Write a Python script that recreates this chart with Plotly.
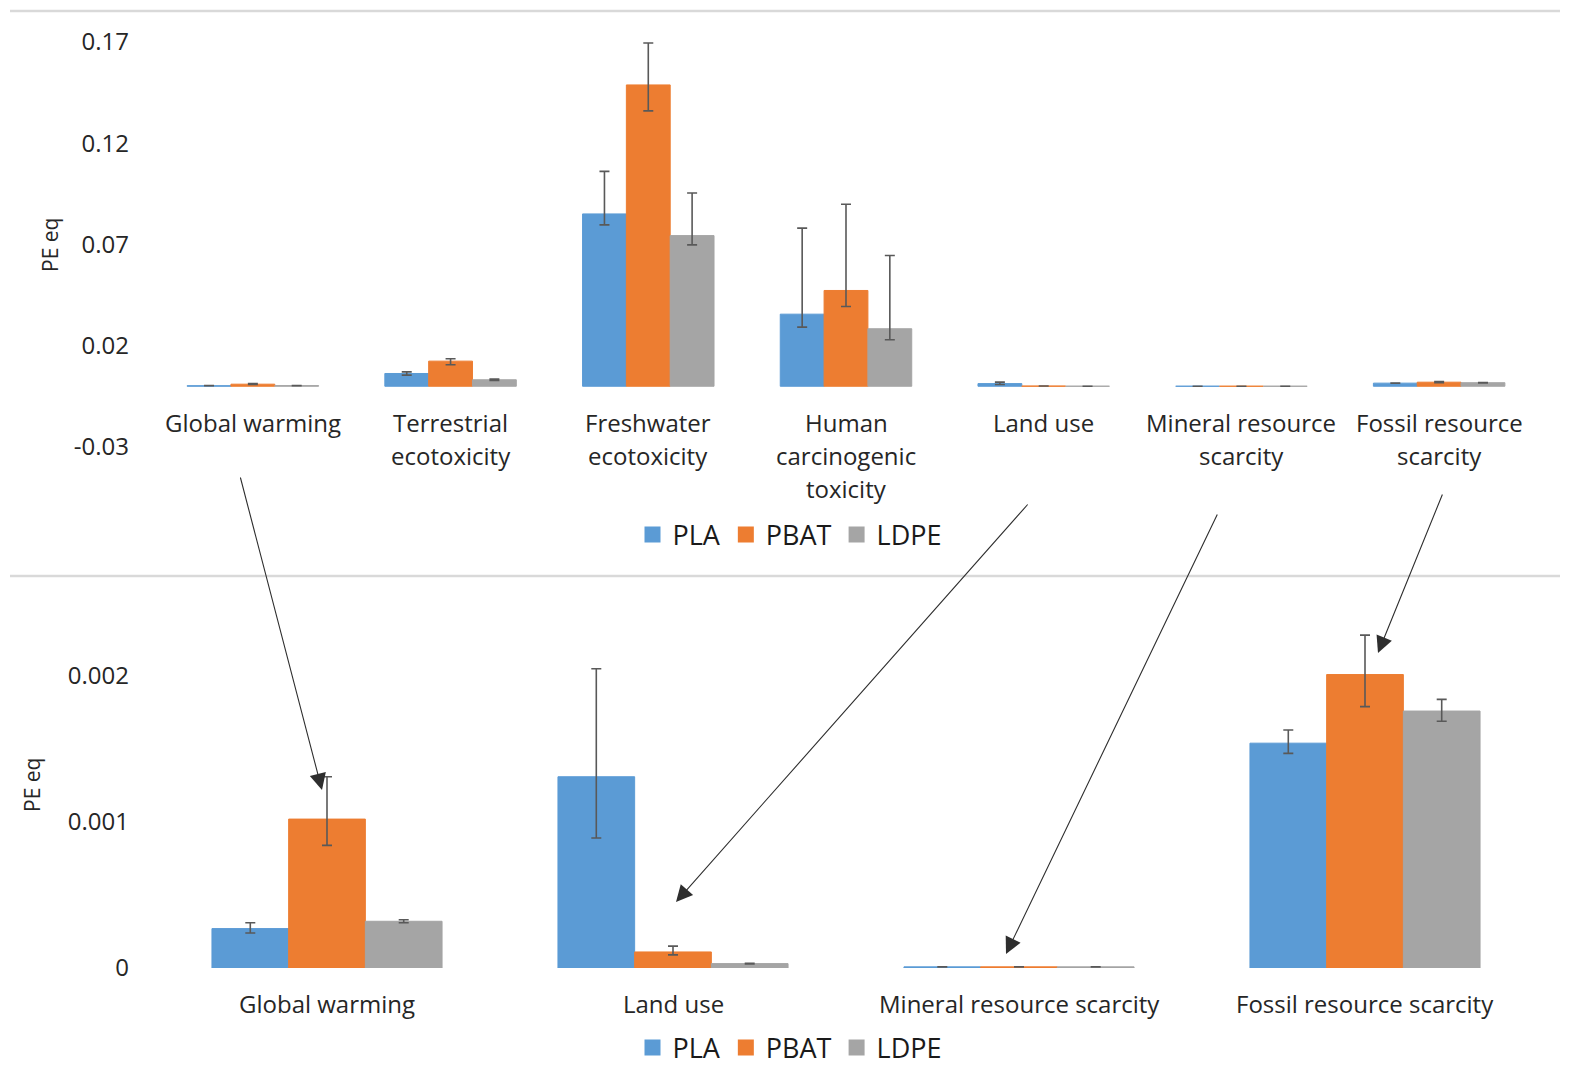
import plotly.graph_objects as go

# categories (top panel) -- bottom panel is a zoom on four of them
categories = ["Global warming", "Terrestrial<br>ecotoxicity", "Freshwater<br>ecotoxicity",
              "Human<br>carcinogenic<br>toxicity", "Land use", "Mineral resource<br>scarcity",
              "Fossil resource<br>scarcity"]
zoom_idx = [0, 4, 5, 6]

pla = [0.00027, 0.0063, 0.0851, 0.0356, 0.00131, 0.000008, 0.00154]
pbat = [0.00102, 0.0124, 0.1488, 0.0473, 0.00011, 0.000008, 0.00201]
ldpe = [0.00032, 0.0032, 0.0744, 0.0284, 0.00003, 0.000008, 0.00176]

pla_up = [0.00004, 0.0008, 0.0210, 0.0425, 0.00074, 0.0, 0.00009]
pla_dn = [0.00003, 0.0008, 0.0054, 0.0064, 0.00042, 0.0, 0.00007]
pbat_up = [0.00029, 0.0012, 0.0207, 0.0426, 0.00004, 0.0, 0.00027]
pbat_dn = [0.00018, 0.0018, 0.0128, 0.0079, 0.00002, 0.0, 0.00022]
ldpe_up = [0.00001, 0.0003, 0.0210, 0.0362, 0.000003, 0.0, 0.00008]
ldpe_dn = [0.00001, 0.0003, 0.0046, 0.0054, 0.000003, 0.0, 0.00007]

series = [("PLA", pla, pla_up, pla_dn, "#5B9BD5"),
          ("PBAT", pbat, pbat_up, pbat_dn, "#ED7D31"),
          ("LDPE", ldpe, ldpe_up, ldpe_dn, "#A5A5A5")]

top_ticks = [-0.03, 0.02, 0.07, 0.12, 0.17]
bot_ticks = [0, 0.001, 0.002]
bot_ticktext = ["0", "0.001", "0.002"]

FONT = "Open Sans"
TXT = "#262626"

# page body has an 8px margin, so the figure is a bit smaller than the window
OFF = 8
W, H = 1571 - OFF, 1071 - OFF


def px(x):
    return (x - OFF) / W


def py(y):
    return 1 - (y - OFF) / H


fig = go.Figure()

for name, vals, up, dn, col in series:
    fig.add_trace(go.Bar(
        x=categories, y=vals, name=name, marker_color=col,
        marker_line=dict(color=col, width=1),
        error_y=dict(type="data", symmetric=False, array=up, arrayminus=dn,
                     color="#595959", thickness=1.6, width=5),
        xaxis="x", yaxis="y", showlegend=False,
    ))

for name, vals, up, dn, col in series:
    fig.add_trace(go.Bar(
        x=[categories[i].replace("<br>", " ") for i in zoom_idx],
        y=[vals[i] for i in zoom_idx], name=name, marker_color=col,
        marker_line=dict(color=col, width=1),
        error_y=dict(type="data", symmetric=False,
                     array=[up[i] for i in zoom_idx], arrayminus=[dn[i] for i in zoom_idx],
                     color="#595959", thickness=1.6, width=5),
        xaxis="x2", yaxis="y2", showlegend=False,
    ))

# legend entries with bigger square swatches, one legend per panel
for lg, xa, ya in [("legend", "x", "y"), ("legend2", "x2", "y2")]:
    for name, vals, up, dn, col in series:
        fig.add_trace(go.Scatter(
            x=[None], y=[None], mode="markers", name=name,
            marker=dict(symbol="square", size=16, color=col),
            xaxis=xa, yaxis=ya, legend=lg, showlegend=True, hoverinfo="skip",
        ))

annotations = []
# category labels under the zero line (top panel)
for c in categories:
    for j, line in enumerate(c.split("<br>")):
        annotations.append(dict(x=c, y=0, xref="x", yref="y", text=line, showarrow=False,
                                yanchor="middle", yshift=-36 - 33 * j,
                                font=dict(family=FONT, size=24, color=TXT)))
# category labels (bottom panel)
for i in zoom_idx:
    c = categories[i].replace("<br>", " ")
    annotations.append(dict(x=c, y=0, xref="x2", yref="y2", text=c, showarrow=False,
                            yanchor="middle", yshift=-35,
                            font=dict(family=FONT, size=24, color=TXT)))

# axis titles
for xp, yp in [(50, 245), (32, 785)]:
    annotations.append(dict(x=px(xp), y=py(yp), xref="paper", yref="paper", text="PE eq",
                            showarrow=False, textangle=-90, xanchor="center", yanchor="middle",
                            font=dict(family=FONT, size=21, color=TXT)))

# arrows linking top-panel labels to the zoomed bars
arrows = [((240, 476), (322, 790)), ((1029, 503), (676, 902)),
          ((1218, 513), (1006, 954)), ((1443, 493), (1378, 653))]
for (tx, ty), (hx, hy) in arrows:
    annotations.append(dict(x=px(hx), y=py(hy), xref="paper", yref="paper",
                            ax=tx - hx, ay=ty - hy, axref="pixel", ayref="pixel",
                            showarrow=True, arrowhead=2, arrowsize=3, arrowwidth=1.1,
                            arrowcolor="#2e2e2e", text=""))

shapes = [dict(type="line", xref="paper", yref="paper", x0=px(10), x1=px(1560),
               y0=py(yy), y1=py(yy), line=dict(color="#d9d9d9", width=2.5))
          for yy in (11, 576)]

axis_common = dict(showgrid=False, zeroline=False, showline=False, automargin=False)
xdom = [px(154), px(1538)]

fig.update_layout(
    width=W, height=H,
    margin=dict(l=0, r=0, t=0, b=0, pad=0, autoexpand=False),
    paper_bgcolor="white", plot_bgcolor="white",
    barmode="group", bargap=0.335, bargroupgap=0,
    font=dict(family=FONT, color=TXT),
    xaxis=dict(domain=xdom, anchor="y", showticklabels=False, **axis_common),
    yaxis=dict(domain=[py(447), py(42)], range=[-0.03, 0.17], tickvals=top_ticks,
               ticktext=[f"{v:.2f}" for v in top_ticks],
               tickfont=dict(family=FONT, size=24, color=TXT), ticklabelstandoff=24,
               **axis_common),
    xaxis2=dict(domain=xdom, anchor="y2", showticklabels=False, **axis_common),
    yaxis2=dict(domain=[py(968), py(603)], range=[0, 0.0025], tickvals=bot_ticks,
                ticktext=bot_ticktext,
                tickfont=dict(family=FONT, size=24, color=TXT), ticklabelstandoff=24,
                **axis_common),
    legend=dict(orientation="h", x=px(790), xanchor="center", y=py(535), yanchor="middle",
                font=dict(family=FONT, size=27, color="#1a1a1a")),
    legend2=dict(orientation="h", x=px(790), xanchor="center", y=py(1048), yanchor="middle",
                 font=dict(family=FONT, size=27, color="#1a1a1a")),
    annotations=annotations,
    shapes=shapes,
    showlegend=True,
)

fig.write_html("out.html")
